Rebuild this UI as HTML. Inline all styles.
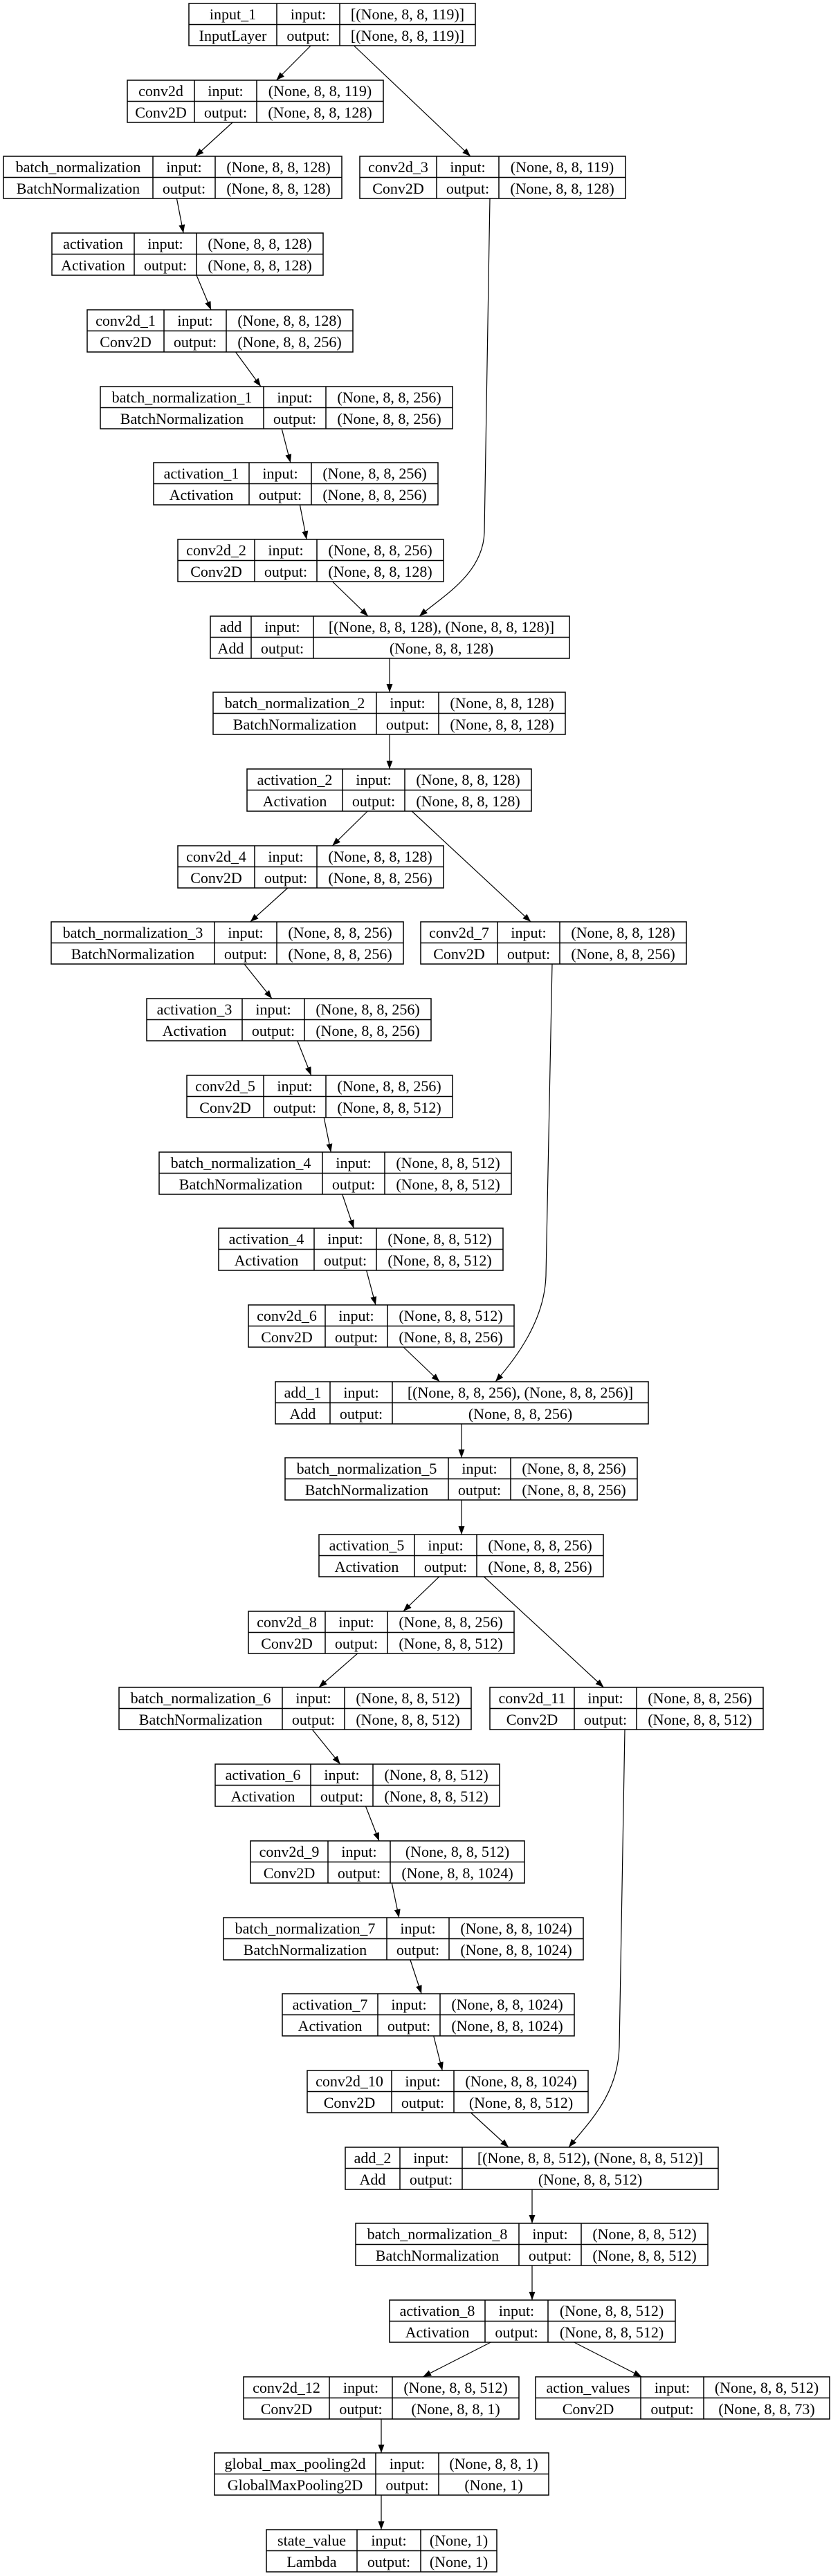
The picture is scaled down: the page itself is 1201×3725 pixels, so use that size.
<!DOCTYPE html>
<html><head><meta charset="utf-8"><style>
html,body{margin:0;padding:0;background:#fff;}
svg{display:block;}
text{font-family:"Liberation Serif",serif;font-size:22px;fill:#000;text-anchor:middle;}
.b rect{fill:#fff;stroke:#000;stroke-width:1.5;}
.b path{fill:none;stroke:#000;stroke-width:1.5;}
.e{fill:none;stroke:#000;stroke-width:1.2;marker-end:url(#ah);}
</style></head><body>
<svg width="1201" height="3725" viewBox="0 0 1201 3725" xmlns="http://www.w3.org/2000/svg">
<defs><marker id="ah" markerUnits="userSpaceOnUse" markerWidth="13" markerHeight="10" refX="12" refY="4.5" orient="auto"><path d="M0,0 L12,4.5 L0,9 z" fill="#000"/></marker></defs>
<rect width="1201" height="3725" fill="#fff"/>

<!-- edges -->
<line class="e" x1="449.1" y1="66" x2="399.4" y2="116"/>
<line class="e" x1="511.5" y1="66" x2="680" y2="226"/>
<line class="e" x1="336.1" y1="177" x2="282.4" y2="226"/>
<line class="e" x1="255.4" y1="287" x2="265.1" y2="337"/>
<line class="e" x1="284" y1="398" x2="305" y2="448"/>
<line class="e" x1="340.5" y1="509" x2="377" y2="559"/>
<line class="e" x1="407.2" y1="620" x2="419.8" y2="669"/>
<line class="e" x1="433.4" y1="730" x2="443.1" y2="780"/>
<line class="e" x1="480.5" y1="841" x2="532" y2="891"/>
<path class="e" d="M708,287 L700,770 C698,830 640,862 606,891"/>
<line class="e" x1="563" y1="952" x2="563" y2="1001"/>
<line class="e" x1="563" y1="1062" x2="563" y2="1112"/>
<line class="e" x1="531.2" y1="1173" x2="480.3" y2="1223"/>
<line class="e" x1="595.2" y1="1173" x2="767.2" y2="1333"/>
<line class="e" x1="415.8" y1="1284" x2="361.7" y2="1333"/>
<line class="e" x1="353" y1="1394" x2="393" y2="1444"/>
<line class="e" x1="429.8" y1="1505" x2="449.7" y2="1555"/>
<line class="e" x1="468.2" y1="1616" x2="478.3" y2="1666"/>
<line class="e" x1="494.7" y1="1727" x2="511.3" y2="1776"/>
<line class="e" x1="529.6" y1="1837" x2="542.9" y2="1887"/>
<line class="e" x1="583.1" y1="1948" x2="635.4" y2="1998"/>
<path class="e" d="M798,1394 L789,1845 C787,1910 745,1965 716,1998"/>
<line class="e" x1="667" y1="2059" x2="667" y2="2108"/>
<line class="e" x1="667" y1="2169" x2="667" y2="2219"/>
<line class="e" x1="634.7" y1="2280" x2="582.8" y2="2330"/>
<line class="e" x1="699.4" y1="2280" x2="872.5" y2="2440"/>
<line class="e" x1="516.7" y1="2391" x2="460.8" y2="2440"/>
<line class="e" x1="451.3" y1="2501" x2="491.7" y2="2551"/>
<line class="e" x1="528.5" y1="2612" x2="548" y2="2662"/>
<line class="e" x1="566.3" y1="2723" x2="576.7" y2="2773"/>
<line class="e" x1="592.9" y1="2834" x2="609.1" y2="2883"/>
<line class="e" x1="626.7" y1="2944" x2="639.3" y2="2994"/>
<line class="e" x1="680.5" y1="3055" x2="735" y2="3105"/>
<path class="e" d="M903,2501 L895,2960 C893,3030 850,3070 822,3105"/>
<line class="e" x1="769" y1="3166" x2="769" y2="3215"/>
<line class="e" x1="769" y1="3276" x2="769" y2="3326"/>
<line class="e" x1="709.3" y1="3387" x2="611.2" y2="3437"/>
<line class="e" x1="829.6" y1="3387" x2="927.4" y2="3437"/>
<line class="e" x1="551" y1="3498" x2="551" y2="3547"/>
<line class="e" x1="551" y1="3608" x2="551" y2="3658"/>

<!-- boxes -->
<g class="b" transform="translate(273,5)"><rect width="414" height="61"/><path d="M127,0V61M218,0V61M0,30.5H414"/><text x="63.5" y="23">input_1</text><text x="63.5" y="54">InputLayer</text><text x="172.5" y="23">input:</text><text x="172.5" y="54">output:</text><text x="316" y="23">[(None, 8, 8, 119)]</text><text x="316" y="54">[(None, 8, 8, 119)]</text></g>

<g class="b" transform="translate(184,116)"><rect width="370" height="61"/><path d="M97,0V61M187,0V61M0,30.5H370"/><text x="48.5" y="23">conv2d</text><text x="48.5" y="54">Conv2D</text><text x="142" y="23">input:</text><text x="142" y="54">output:</text><text x="278.5" y="23">(None, 8, 8, 119)</text><text x="278.5" y="54">(None, 8, 8, 128)</text></g>

<g class="b" transform="translate(5,226)"><rect width="489" height="61"/><path d="M216,0V61M306,0V61M0,30.5H489"/><text x="108" y="23">batch_normalization</text><text x="108" y="54">BatchNormalization</text><text x="261" y="23">input:</text><text x="261" y="54">output:</text><text x="397.5" y="23">(None, 8, 8, 128)</text><text x="397.5" y="54">(None, 8, 8, 128)</text></g>

<g class="b" transform="translate(520,226)"><rect width="384" height="61"/><path d="M111,0V61M201,0V61M0,30.5H384"/><text x="55.5" y="23">conv2d_3</text><text x="55.5" y="54">Conv2D</text><text x="156" y="23">input:</text><text x="156" y="54">output:</text><text x="292.5" y="23">(None, 8, 8, 119)</text><text x="292.5" y="54">(None, 8, 8, 128)</text></g>

<g class="b" transform="translate(75,337)"><rect width="392" height="61"/><path d="M119,0V61M209,0V61M0,30.5H392"/><text x="59.5" y="23">activation</text><text x="59.5" y="54">Activation</text><text x="164" y="23">input:</text><text x="164" y="54">output:</text><text x="300.5" y="23">(None, 8, 8, 128)</text><text x="300.5" y="54">(None, 8, 8, 128)</text></g>

<g class="b" transform="translate(126,448)"><rect width="384" height="61"/><path d="M111,0V61M201,0V61M0,30.5H384"/><text x="55.5" y="23">conv2d_1</text><text x="55.5" y="54">Conv2D</text><text x="156" y="23">input:</text><text x="156" y="54">output:</text><text x="292.5" y="23">(None, 8, 8, 128)</text><text x="292.5" y="54">(None, 8, 8, 256)</text></g>

<g class="b" transform="translate(145,559)"><rect width="509" height="61"/><path d="M236,0V61M326,0V61M0,30.5H509"/><text x="118" y="23">batch_normalization_1</text><text x="118" y="54">BatchNormalization</text><text x="281" y="23">input:</text><text x="281" y="54">output:</text><text x="417.5" y="23">(None, 8, 8, 256)</text><text x="417.5" y="54">(None, 8, 8, 256)</text></g>

<g class="b" transform="translate(222,669)"><rect width="411" height="61"/><path d="M138,0V61M228,0V61M0,30.5H411"/><text x="69" y="23">activation_1</text><text x="69" y="54">Activation</text><text x="183" y="23">input:</text><text x="183" y="54">output:</text><text x="319.5" y="23">(None, 8, 8, 256)</text><text x="319.5" y="54">(None, 8, 8, 256)</text></g>

<g class="b" transform="translate(257,780)"><rect width="384" height="61"/><path d="M111,0V61M201,0V61M0,30.5H384"/><text x="55.5" y="23">conv2d_2</text><text x="55.5" y="54">Conv2D</text><text x="156" y="23">input:</text><text x="156" y="54">output:</text><text x="292.5" y="23">(None, 8, 8, 256)</text><text x="292.5" y="54">(None, 8, 8, 128)</text></g>

<g class="b" transform="translate(304,891)"><rect width="519" height="61"/><path d="M59,0V61M149,0V61M0,30.5H519"/><text x="29.5" y="23">add</text><text x="29.5" y="54">Add</text><text x="104" y="23">input:</text><text x="104" y="54">output:</text><text x="334" y="23">[(None, 8, 8, 128), (None, 8, 8, 128)]</text><text x="334" y="54">(None, 8, 8, 128)</text></g>

<g class="b" transform="translate(308,1001)"><rect width="509" height="61"/><path d="M236,0V61M326,0V61M0,30.5H509"/><text x="118" y="23">batch_normalization_2</text><text x="118" y="54">BatchNormalization</text><text x="281" y="23">input:</text><text x="281" y="54">output:</text><text x="417.5" y="23">(None, 8, 8, 128)</text><text x="417.5" y="54">(None, 8, 8, 128)</text></g>

<g class="b" transform="translate(357,1112)"><rect width="411" height="61"/><path d="M138,0V61M228,0V61M0,30.5H411"/><text x="69" y="23">activation_2</text><text x="69" y="54">Activation</text><text x="183" y="23">input:</text><text x="183" y="54">output:</text><text x="319.5" y="23">(None, 8, 8, 128)</text><text x="319.5" y="54">(None, 8, 8, 128)</text></g>

<g class="b" transform="translate(257,1223)"><rect width="384" height="61"/><path d="M111,0V61M201,0V61M0,30.5H384"/><text x="55.5" y="23">conv2d_4</text><text x="55.5" y="54">Conv2D</text><text x="156" y="23">input:</text><text x="156" y="54">output:</text><text x="292.5" y="23">(None, 8, 8, 128)</text><text x="292.5" y="54">(None, 8, 8, 256)</text></g>

<g class="b" transform="translate(74,1333)"><rect width="509" height="61"/><path d="M236,0V61M326,0V61M0,30.5H509"/><text x="118" y="23">batch_normalization_3</text><text x="118" y="54">BatchNormalization</text><text x="281" y="23">input:</text><text x="281" y="54">output:</text><text x="417.5" y="23">(None, 8, 8, 256)</text><text x="417.5" y="54">(None, 8, 8, 256)</text></g>

<g class="b" transform="translate(608,1333)"><rect width="384" height="61"/><path d="M111,0V61M201,0V61M0,30.5H384"/><text x="55.5" y="23">conv2d_7</text><text x="55.5" y="54">Conv2D</text><text x="156" y="23">input:</text><text x="156" y="54">output:</text><text x="292.5" y="23">(None, 8, 8, 128)</text><text x="292.5" y="54">(None, 8, 8, 256)</text></g>

<g class="b" transform="translate(212,1444)"><rect width="411" height="61"/><path d="M138,0V61M228,0V61M0,30.5H411"/><text x="69" y="23">activation_3</text><text x="69" y="54">Activation</text><text x="183" y="23">input:</text><text x="183" y="54">output:</text><text x="319.5" y="23">(None, 8, 8, 256)</text><text x="319.5" y="54">(None, 8, 8, 256)</text></g>

<g class="b" transform="translate(270,1555)"><rect width="384" height="61"/><path d="M111,0V61M201,0V61M0,30.5H384"/><text x="55.5" y="23">conv2d_5</text><text x="55.5" y="54">Conv2D</text><text x="156" y="23">input:</text><text x="156" y="54">output:</text><text x="292.5" y="23">(None, 8, 8, 256)</text><text x="292.5" y="54">(None, 8, 8, 512)</text></g>

<g class="b" transform="translate(230,1666)"><rect width="509" height="61"/><path d="M236,0V61M326,0V61M0,30.5H509"/><text x="118" y="23">batch_normalization_4</text><text x="118" y="54">BatchNormalization</text><text x="281" y="23">input:</text><text x="281" y="54">output:</text><text x="417.5" y="23">(None, 8, 8, 512)</text><text x="417.5" y="54">(None, 8, 8, 512)</text></g>

<g class="b" transform="translate(316,1776)"><rect width="411" height="61"/><path d="M138,0V61M228,0V61M0,30.5H411"/><text x="69" y="23">activation_4</text><text x="69" y="54">Activation</text><text x="183" y="23">input:</text><text x="183" y="54">output:</text><text x="319.5" y="23">(None, 8, 8, 512)</text><text x="319.5" y="54">(None, 8, 8, 512)</text></g>

<g class="b" transform="translate(359,1887)"><rect width="384" height="61"/><path d="M111,0V61M201,0V61M0,30.5H384"/><text x="55.5" y="23">conv2d_6</text><text x="55.5" y="54">Conv2D</text><text x="156" y="23">input:</text><text x="156" y="54">output:</text><text x="292.5" y="23">(None, 8, 8, 512)</text><text x="292.5" y="54">(None, 8, 8, 256)</text></g>

<g class="b" transform="translate(398,1998)"><rect width="539" height="61"/><path d="M79,0V61M169,0V61M0,30.5H539"/><text x="39.5" y="23">add_1</text><text x="39.5" y="54">Add</text><text x="124" y="23">input:</text><text x="124" y="54">output:</text><text x="354" y="23">[(None, 8, 8, 256), (None, 8, 8, 256)]</text><text x="354" y="54">(None, 8, 8, 256)</text></g>

<g class="b" transform="translate(412,2108)"><rect width="509" height="61"/><path d="M236,0V61M326,0V61M0,30.5H509"/><text x="118" y="23">batch_normalization_5</text><text x="118" y="54">BatchNormalization</text><text x="281" y="23">input:</text><text x="281" y="54">output:</text><text x="417.5" y="23">(None, 8, 8, 256)</text><text x="417.5" y="54">(None, 8, 8, 256)</text></g>

<g class="b" transform="translate(461,2219)"><rect width="411" height="61"/><path d="M138,0V61M228,0V61M0,30.5H411"/><text x="69" y="23">activation_5</text><text x="69" y="54">Activation</text><text x="183" y="23">input:</text><text x="183" y="54">output:</text><text x="319.5" y="23">(None, 8, 8, 256)</text><text x="319.5" y="54">(None, 8, 8, 256)</text></g>

<g class="b" transform="translate(359,2330)"><rect width="384" height="61"/><path d="M111,0V61M201,0V61M0,30.5H384"/><text x="55.5" y="23">conv2d_8</text><text x="55.5" y="54">Conv2D</text><text x="156" y="23">input:</text><text x="156" y="54">output:</text><text x="292.5" y="23">(None, 8, 8, 256)</text><text x="292.5" y="54">(None, 8, 8, 512)</text></g>

<g class="b" transform="translate(172,2440)"><rect width="509" height="61"/><path d="M236,0V61M326,0V61M0,30.5H509"/><text x="118" y="23">batch_normalization_6</text><text x="118" y="54">BatchNormalization</text><text x="281" y="23">input:</text><text x="281" y="54">output:</text><text x="417.5" y="23">(None, 8, 8, 512)</text><text x="417.5" y="54">(None, 8, 8, 512)</text></g>

<g class="b" transform="translate(708,2440)"><rect width="395" height="61"/><path d="M122,0V61M212,0V61M0,30.5H395"/><text x="61" y="23">conv2d_11</text><text x="61" y="54">Conv2D</text><text x="167" y="23">input:</text><text x="167" y="54">output:</text><text x="303.5" y="23">(None, 8, 8, 256)</text><text x="303.5" y="54">(None, 8, 8, 512)</text></g>

<g class="b" transform="translate(311,2551)"><rect width="411" height="61"/><path d="M138,0V61M228,0V61M0,30.5H411"/><text x="69" y="23">activation_6</text><text x="69" y="54">Activation</text><text x="183" y="23">input:</text><text x="183" y="54">output:</text><text x="319.5" y="23">(None, 8, 8, 512)</text><text x="319.5" y="54">(None, 8, 8, 512)</text></g>

<g class="b" transform="translate(362,2662)"><rect width="396" height="61"/><path d="M112,0V61M202,0V61M0,30.5H396"/><text x="56" y="23">conv2d_9</text><text x="56" y="54">Conv2D</text><text x="157" y="23">input:</text><text x="157" y="54">output:</text><text x="299" y="23">(None, 8, 8, 512)</text><text x="299" y="54">(None, 8, 8, 1024)</text></g>

<g class="b" transform="translate(323,2773)"><rect width="520" height="61"/><path d="M236,0V61M326,0V61M0,30.5H520"/><text x="118" y="23">batch_normalization_7</text><text x="118" y="54">BatchNormalization</text><text x="281" y="23">input:</text><text x="281" y="54">output:</text><text x="423" y="23">(None, 8, 8, 1024)</text><text x="423" y="54">(None, 8, 8, 1024)</text></g>

<g class="b" transform="translate(408,2883)"><rect width="422" height="61"/><path d="M138,0V61M228,0V61M0,30.5H422"/><text x="69" y="23">activation_7</text><text x="69" y="54">Activation</text><text x="183" y="23">input:</text><text x="183" y="54">output:</text><text x="325" y="23">(None, 8, 8, 1024)</text><text x="325" y="54">(None, 8, 8, 1024)</text></g>

<g class="b" transform="translate(444,2994)"><rect width="406" height="61"/><path d="M122,0V61M212,0V61M0,30.5H406"/><text x="61" y="23">conv2d_10</text><text x="61" y="54">Conv2D</text><text x="167" y="23">input:</text><text x="167" y="54">output:</text><text x="309" y="23">(None, 8, 8, 1024)</text><text x="309" y="54">(None, 8, 8, 512)</text></g>

<g class="b" transform="translate(499,3105)"><rect width="539" height="61"/><path d="M79,0V61M169,0V61M0,30.5H539"/><text x="39.5" y="23">add_2</text><text x="39.5" y="54">Add</text><text x="124" y="23">input:</text><text x="124" y="54">output:</text><text x="354" y="23">[(None, 8, 8, 512), (None, 8, 8, 512)]</text><text x="354" y="54">(None, 8, 8, 512)</text></g>

<g class="b" transform="translate(514,3215)"><rect width="509" height="61"/><path d="M236,0V61M326,0V61M0,30.5H509"/><text x="118" y="23">batch_normalization_8</text><text x="118" y="54">BatchNormalization</text><text x="281" y="23">input:</text><text x="281" y="54">output:</text><text x="417.5" y="23">(None, 8, 8, 512)</text><text x="417.5" y="54">(None, 8, 8, 512)</text></g>

<g class="b" transform="translate(563,3326)"><rect width="413" height="61"/><path d="M138,0V61M229,0V61M0,30.5H413"/><text x="69" y="23">activation_8</text><text x="69" y="54">Activation</text><text x="183.5" y="23">input:</text><text x="183.5" y="54">output:</text><text x="321" y="23">(None, 8, 8, 512)</text><text x="321" y="54">(None, 8, 8, 512)</text></g>

<g class="b" transform="translate(352,3437)"><rect width="398" height="61"/><path d="M124,0V61M215,0V61M0,30.5H398"/><text x="62" y="23">conv2d_12</text><text x="62" y="54">Conv2D</text><text x="169.5" y="23">input:</text><text x="169.5" y="54">output:</text><text x="306.5" y="23">(None, 8, 8, 512)</text><text x="306.5" y="54">(None, 8, 8, 1)</text></g>

<g class="b" transform="translate(774,3437)"><rect width="425" height="61"/><path d="M152,0V61M243,0V61M0,30.5H425"/><text x="76" y="23">action_values</text><text x="76" y="54">Conv2D</text><text x="197.5" y="23">input:</text><text x="197.5" y="54">output:</text><text x="334" y="23">(None, 8, 8, 512)</text><text x="334" y="54">(None, 8, 8, 73)</text></g>

<g class="b" transform="translate(310,3547)"><rect width="483" height="61"/><path d="M233,0V61M324,0V61M0,30.5H483"/><text x="116.5" y="23">global_max_pooling2d</text><text x="116.5" y="54">GlobalMaxPooling2D</text><text x="278.5" y="23">input:</text><text x="278.5" y="54">output:</text><text x="403.5" y="23">(None, 8, 8, 1)</text><text x="403.5" y="54">(None, 1)</text></g>

<g class="b" transform="translate(385,3658)"><rect width="333" height="61"/><path d="M131,0V61M223,0V61M0,30.5H333"/><text x="65.5" y="23">state_value</text><text x="65.5" y="54">Lambda</text><text x="177" y="23">input:</text><text x="177" y="54">output:</text><text x="278" y="23">(None, 1)</text><text x="278" y="54">(None, 1)</text></g>
</svg>
</body></html>
